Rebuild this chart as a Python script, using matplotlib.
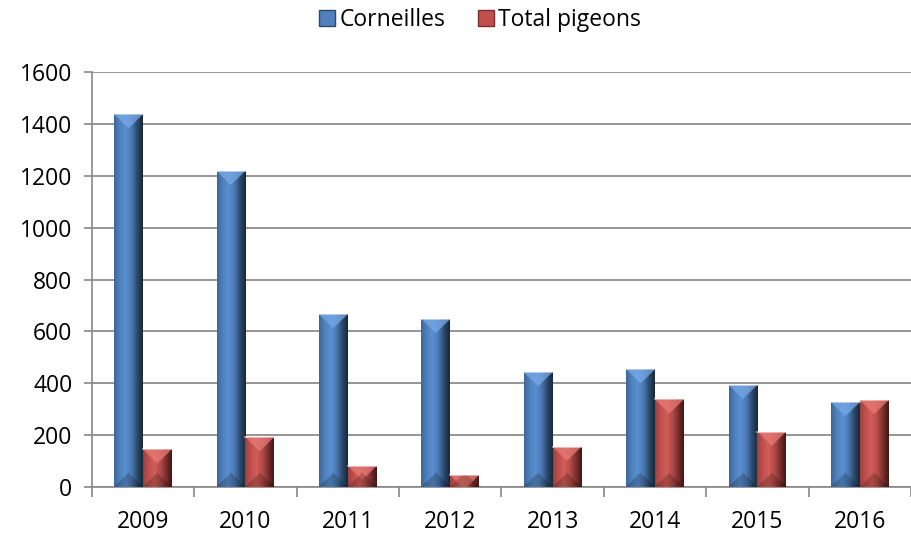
import numpy as np
import matplotlib.pyplot as plt
from matplotlib.colors import LinearSegmentedColormap
from matplotlib.patches import Patch, Polygon

# data
years = ['2009', '2010', '2011', '2012', '2013', '2014', '2015', '2016']
corneilles = [1438, 1219, 666, 647, 442, 453, 393, 326]
pigeons = [144, 191, 80, 44, 154, 337, 212, 334]

plt.rcParams['font.family'] = ['Open Sans', 'DejaVu Sans']

fig = plt.figure(figsize=(9.11, 5.36), dpi=100)
ax = fig.add_axes([0.1007, 0.092, 0.8993, 0.773])

x = np.arange(len(years))
w = 0.281

blue_cmap = LinearSegmentedColormap.from_list(
    'b', ['#3d6696', '#4f81bd', '#5b8fd0', '#4a7ab3', '#2d4a6e', '#172638'])
red_cmap = LinearSegmentedColormap.from_list(
    'r', ['#9c403d', '#c0504d', '#d25e5a', '#b44a47', '#7a2f2d', '#3e1615'])

bars_c = ax.bar(x - w / 2, corneilles, w, color='#4f81bd', zorder=3, label='Corneilles')
bars_p = ax.bar(x + w / 2, pigeons, w, color='#c0504d', zorder=3, label='Total pigeons')

ax.set_xlim(-0.5, 7.355)
ax.set_ylim(0, 1600)

bev = 54  # bevel depth in data units (~14 px)
grad = np.linspace(0, 1, 256).reshape(1, -1)
for bars, cmap, light in [(bars_c, blue_cmap, '#78a8e6'), (bars_p, red_cmap, '#e87a75')]:
    for b in bars:
        x0, y0 = b.get_x(), b.get_y()
        x1, y1 = x0 + b.get_width(), y0 + b.get_height()
        xm = (x0 + x1) / 2
        im = ax.imshow(grad, cmap=cmap, extent=[x0, x1, y0, y1],
                       aspect='auto', zorder=4, interpolation='bilinear')
        im.set_clip_path(b)
        top = Polygon([(x0, y1), (x1, y1), (xm, y1 - bev)], closed=True,
                      facecolor=light, edgecolor='none', alpha=0.75, zorder=5)
        ax.add_patch(top)
        top.set_clip_path(b)
        bot = Polygon([(x0, y0), (x1, y0), (xm, y0 + bev)], closed=True,
                      facecolor='black', edgecolor='none', alpha=0.2, zorder=5)
        ax.add_patch(bot)
        bot.set_clip_path(b)
        ax.plot([x0, x1], [y1, y1], color='white', alpha=0.6, lw=1.2, zorder=6)

ax.set_yticks(np.arange(0, 1601, 200))
ax.set_xticks(x)
ax.set_xticklabels(years)
ax.set_xticks(np.arange(-0.5, 8, 1), minor=True)
ax.tick_params(axis='x', which='major', length=0, pad=17, labelsize=16.5)
ax.tick_params(axis='x', which='minor', length=7, color='#888888', width=1.2)
ax.tick_params(axis='y', length=6, color='#888888', width=1.2, labelsize=16.5, pad=8)

ax.grid(axis='y', color='#8c8c8c', lw=1.3, zorder=0)
ax.set_axisbelow(True)
for s in ['top', 'right']:
    ax.spines[s].set_visible(False)
for s in ['left', 'bottom']:
    ax.spines[s].set_color('#888888')
    ax.spines[s].set_linewidth(1.2)

handles = [Patch(facecolor='#4f81bd', edgecolor='#2d4a6e'),
           Patch(facecolor='#c0504d', edgecolor='#7a2f2d')]
fig.legend(handles, ['Corneilles', 'Total pigeons'], loc='center',
           bbox_to_anchor=(0.527, 0.963), ncol=2, frameon=False, fontsize=16.5,
           handlelength=0.7, handleheight=0.7, handletextpad=0.2, columnspacing=1.4)

fig.savefig('out.png', dpi=100)
